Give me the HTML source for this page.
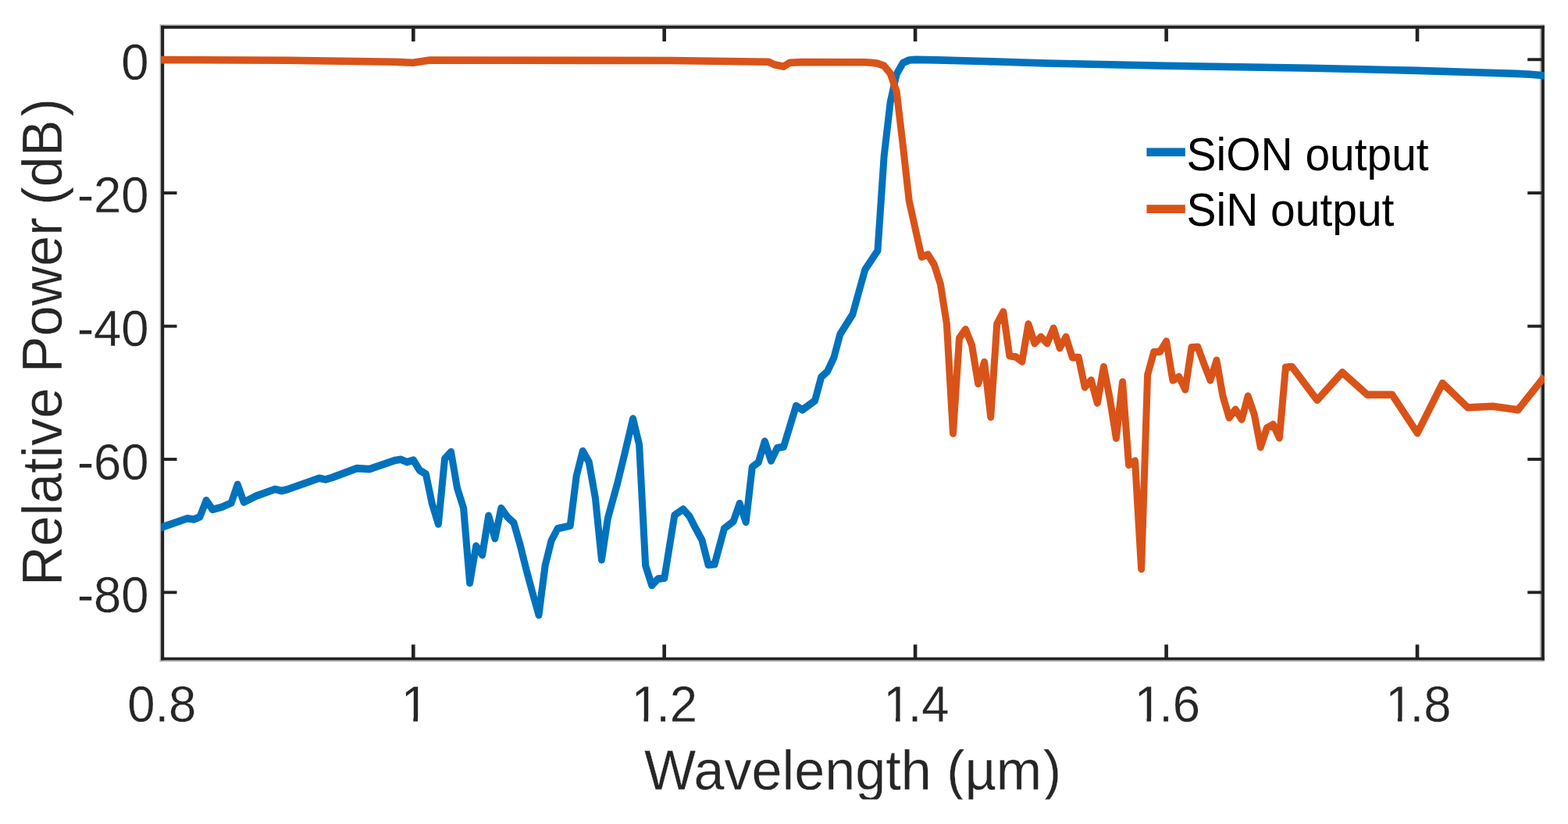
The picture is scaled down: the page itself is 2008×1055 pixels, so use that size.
<!DOCTYPE html>
<html lang="en">
<head>
<meta charset="utf-8">
<title>Relative Power vs Wavelength</title>
<style>
html,body{margin:0;padding:0;background:#fff;}
body{width:2008px;height:1055px;overflow:hidden;position:relative;font-family:"Liberation Sans",Arial,Helvetica,sans-serif;}
svg{position:absolute;left:0;top:0;display:block;}
text{font-family:"Liberation Sans",Arial,Helvetica,sans-serif;}
.tick{font-size:64.5px;fill:#262626;stroke:#fff;stroke-width:0.25px;}
.lab{font-size:71.0px;fill:#262626;stroke:#fff;stroke-width:0.3px;}
.leg{font-size:57.5px;fill:#000;}
</style>
</head>
<body>
<svg width="2008" height="1055" viewBox="0 0 2008 1055">
<defs>
<clipPath id="plotclip"><rect x="206.2" y="30" width="1771.7" height="820"/></clipPath>
<clipPath id="botclip"><rect x="0" y="0" width="2008" height="1023.6"/></clipPath>
</defs>
<rect x="0" y="0" width="2008" height="1055" fill="#fff"/>
<g>

<g shape-rendering="geometricPrecision">
<rect x="204.6" y="31.3" width="1773.3" height="1.5" fill="#b4b4b4"/>
<rect x="204.6" y="845.3" width="1773.3" height="1.9" fill="#b4b4b4"/>
<rect x="204.6" y="31.3" width="1.5" height="815.9" fill="#b4b4b4"/>
<rect x="1971.9" y="36.8" width="2.0" height="804.8" fill="#b4b4b4"/>
<rect x="206.1" y="32.8" width="1771.8" height="4.0" fill="#222222"/>
<rect x="206.1" y="841.6" width="1771.8" height="3.7" fill="#222222"/>
<rect x="206.1" y="32.8" width="4.1" height="812.5" fill="#222222"/>
<rect x="1973.9" y="32.8" width="4.0" height="812.5" fill="#222222"/>
<rect x="527.0" y="36.3" width="4.6" height="16.8" fill="#222222"/>
<rect x="527.0" y="825.3" width="4.6" height="16.8" fill="#222222"/>
<rect x="848.4" y="36.3" width="4.6" height="16.8" fill="#222222"/>
<rect x="848.4" y="825.3" width="4.6" height="16.8" fill="#222222"/>
<rect x="1169.8" y="36.3" width="4.6" height="16.8" fill="#222222"/>
<rect x="1169.8" y="825.3" width="4.6" height="16.8" fill="#222222"/>
<rect x="1491.3" y="36.3" width="4.6" height="16.8" fill="#222222"/>
<rect x="1491.3" y="825.3" width="4.6" height="16.8" fill="#222222"/>
<rect x="1812.7" y="36.3" width="4.6" height="16.8" fill="#222222"/>
<rect x="1812.7" y="825.3" width="4.6" height="16.8" fill="#222222"/>
<rect x="209.7" y="74.3" width="16.8" height="3.9" fill="#222222"/>
<rect x="1956.2" y="74.3" width="18.2" height="3.9" fill="#222222"/>
<rect x="209.7" y="245.1" width="16.8" height="3.9" fill="#222222"/>
<rect x="1956.2" y="245.1" width="18.2" height="3.9" fill="#222222"/>
<rect x="209.7" y="415.7" width="16.8" height="3.9" fill="#222222"/>
<rect x="1956.2" y="415.7" width="18.2" height="3.9" fill="#222222"/>
<rect x="209.7" y="586.1" width="16.8" height="3.9" fill="#222222"/>
<rect x="1956.2" y="586.1" width="18.2" height="3.9" fill="#222222"/>
<rect x="209.7" y="756.5" width="16.8" height="3.9" fill="#222222"/>
<rect x="1956.2" y="756.5" width="18.2" height="3.9" fill="#222222"/>
</g>
<g clip-path="url(#plotclip)">
<g fill="none" stroke-width="9.6" stroke-linejoin="round" stroke-linecap="butt" transform="scale(0.94 1)">
<polyline stroke="#0072BD" points="217.6,676.2 221.1,674.9 255.2,663.7 263.8,665 272.3,661.8 281.0,640.6 289.5,652.4 301.8,649.4 315.1,643.8 323.6,620.3 332.2,643 349.4,634.9 375.0,626.3 383.5,628.5 392.0,626.5 434.8,612.2 443.4,613.9 451.9,611.6 486.1,599.6 503.2,600.6 537.4,589.6 546.0,588.2 554.5,591.6 563.1,589 571.6,602 580.2,607 588.7,645 597.2,671 605.9,587.3 614.4,578.5 622.9,625 631.5,650.5 640.0,746.5 648.6,699 657.1,710.6 665.6,660.3 674.3,689.5 682.8,650.6 691.3,661.8 699.9,669.3 708.4,697 716.9,729 725.5,759 734.0,787.5 742.7,724 751.2,692 759.7,676.8 776.8,673.1 785.3,609.4 793.9,577.5 802.4,591.5 811.1,637.9 819.6,716.7 828.1,663.3 841.0,619.4 850.5,582.9 862.3,536 870.9,569.4 879.4,723.9 888.0,749.5 896.5,741.1 905.1,740.3 919.0,659.5 930.7,652 939.3,661 947.8,676.7 956.4,691.7 964.9,723.1 973.5,722.4 986.7,676.7 999.1,667.7 1007.7,644.5 1016.2,668.5 1024.8,597.9 1033.3,591.9 1041.9,565 1050.4,590 1058.9,573.5 1067.6,572 1084.6,519.6 1093.2,524.8 1110.2,513 1118.8,482.9 1127.3,475.4 1136.0,458 1144.5,428 1161.6,402.5 1170.1,373.5 1178.6,345 1195.7,321 1204.4,200 1212.9,131 1221.4,95 1230.0,80.7 1238.5,77 1247.0,76.4 1276.4,76.9 1340.1,78.5 1425.5,81 1588.3,84.3 1787.2,87.2 1930.9,90.4 2021.3,93 2067.0,94.4 2085.1,95.3 2104.3,96.8"/>
<polyline stroke="#D95319" points="217.6,76.6 392.0,77.3 537.4,79.3 554.5,80 563.1,80.2 585.6,77 913.6,77.5 1047.0,79.2 1055.3,82.8 1067.6,85.1 1076.1,80.2 1093.2,79.6 1178.6,79.8 1187.2,80.3 1195.7,81.2 1204.4,84.3 1212.9,94 1221.4,117 1230.0,185 1238.5,257 1247.0,293 1255.6,329 1264.1,326 1272.8,339 1281.3,364 1289.8,415 1298.4,555 1306.9,433 1315.4,421.7 1324.0,441.9 1332.6,491.3 1341.1,463.6 1349.7,533.9 1358.2,414.9 1366.8,399.2 1375.3,455.4 1383.8,456.9 1392.4,462.9 1401.0,414.9 1409.5,439.6 1418.1,431.4 1426.6,439.6 1435.2,420.2 1443.7,445.6 1452.2,431.4 1460.9,457.6 1469.4,457.6 1477.9,495.8 1486.5,486.8 1495.0,516 1503.6,469.6 1512.1,510.8 1520.6,561 1529.3,489 1537.8,595.3 1546.3,590 1554.9,728.5 1563.4,480 1571.9,450.9 1580.5,450.1 1589.0,437 1597.7,486.9 1606.2,482.4 1614.7,498.8 1623.3,444.9 1631.8,444.2 1640.3,465.9 1648.9,486.9 1657.4,461.4 1666.1,507.8 1674.6,534.8 1683.1,524.3 1691.7,537 1700.2,507.1 1708.7,530.3 1717.3,572.6 1725.9,547.9 1734.4,543.4 1743.0,560.6 1751.5,470.4 1760.1,469.6 1794.4,512.3 1828.6,476.8 1862.7,505.4 1896.7,505.4 1931.0,554.5 1965.2,490.6 1999.5,521.8 2033.7,520.3 2068.0,524.8 2104.3,482"/>
</g></g>
<g class="tick">
<text transform="translate(163.23 924.2) scale(0.983 1.015)">0.8</text>
<g transform="translate(511.37 924.2) scale(0.983 1.015)"><text x="2.3" y="0">1</text><rect stroke="none" x="5.8" y="-5.6" width="12.4" height="6.8" fill="#fff"/><rect stroke="none" x="24.0" y="-5.6" width="11.5" height="6.8" fill="#fff"/></g>
<g transform="translate(805.23 924.2) scale(0.983 1.015)"><text x="0" y="0" dx="3.6 -3.9">1.2</text><rect stroke="none" x="7.1" y="-5.6" width="12.5" height="6.8" fill="#fff"/><rect stroke="none" x="25.3" y="-5.6" width="11.5" height="6.8" fill="#fff"/></g>
<g transform="translate(1127.73 924.2) scale(0.983 1.015)"><text x="0" y="0" dx="3.6 -3.9">1.4</text><rect stroke="none" x="7.1" y="-5.6" width="12.5" height="6.8" fill="#fff"/><rect stroke="none" x="25.3" y="-5.6" width="11.5" height="6.8" fill="#fff"/></g>
<g transform="translate(1449.23 924.2) scale(0.983 1.015)"><text x="0" y="0" dx="3.6 -3.9">1.6</text><rect stroke="none" x="7.1" y="-5.6" width="12.5" height="6.8" fill="#fff"/><rect stroke="none" x="25.3" y="-5.6" width="11.5" height="6.8" fill="#fff"/></g>
<g transform="translate(1770.63 924.2) scale(0.983 1.015)"><text x="0" y="0" dx="3.6 -3.9">1.8</text><rect stroke="none" x="7.1" y="-5.6" width="12.5" height="6.8" fill="#fff"/><rect stroke="none" x="25.3" y="-5.6" width="11.5" height="6.8" fill="#fff"/></g>
<text text-anchor="end" transform="translate(190.6 101.7) scale(0.983 1.015)">0</text>
<text text-anchor="end" transform="translate(190.6 272.4) scale(0.983 1.015)">-20</text>
<text text-anchor="end" transform="translate(190.6 443.0) scale(0.983 1.015)">-40</text>
<text text-anchor="end" transform="translate(190.6 613.5) scale(0.983 1.015)">-60</text>
<text text-anchor="end" transform="translate(190.6 783.9) scale(0.983 1.015)">-80</text>
</g>
<g clip-path="url(#botclip)"><text class="lab" text-anchor="middle" transform="translate(1092.0 1010.9) scale(0.9875 1.012)" dx="0 0 0 0 0 0 0 0 0 0 0 0 0 0 1.4">Wavelength (µm)</text></g>
<text class="lab" text-anchor="middle" transform="translate(78.6 437.9) rotate(-90) scale(0.9875 1.012)" dx="0 0 0 0 0 0 0 0 0 0 0 0 0 0 0 -3.6 0 0 4.2">Relative Power (dB)</text>
<rect x="1468.4" y="189.4" width="49.4" height="10.8" fill="#0072BD"/>
<rect x="1468.4" y="262.2" width="49.4" height="10.8" fill="#D95319"/>
<text class="leg" transform="translate(1519.6 218.4) scale(0.99 1.02)">SiON output</text>
<text class="leg" transform="translate(1519.6 288.9) scale(0.99 1.02)">SiN output</text>
</g>
</svg>
</body>
</html>
